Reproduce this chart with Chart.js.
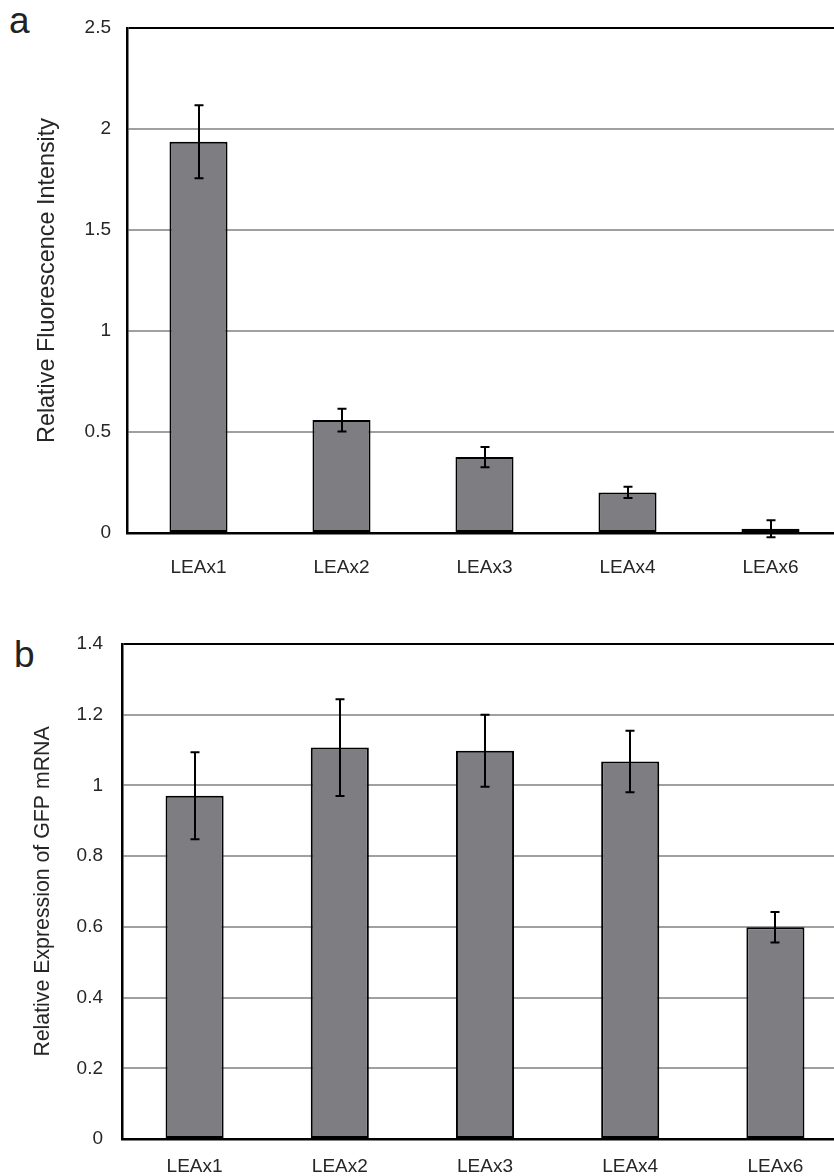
<!DOCTYPE html>
<html>
<head>
<meta charset="utf-8">
<script src="https://cdn.jsdelivr.net/npm/chart.js@4.4.1/dist/chart.umd.min.js"></script>
<style>
  html, body { margin: 0; padding: 0; background: #fff; overflow: hidden; width: 834px; height: 1176px; }
  canvas { position: absolute; left: 0; }
  .lbl { position: absolute; font-family: "Liberation Sans", Arial, sans-serif; font-size: 37px; color: #222; line-height: 1; }
</style>
</head>
<body>
<div class="lbl" style="left:9px; top:2px;">a</div>
<div class="lbl" style="left:14px; top:636px;">b</div>
<canvas id="ca" width="842" height="600" style="top:0px;"></canvas>
<canvas id="cb" width="848" height="590" style="top:600px;"></canvas>
<script>
// ---- Data ----
const categories = ["LEAx1", "LEAx2", "LEAx3", "LEAx4", "LEAx6"];

const fluorescenceValues = [1.937, 0.559, 0.376, 0.201, 0.021];
const fluorescenceErrors = [0.181, 0.056, 0.050, 0.028, 0.042];
const fluorescenceTicks = ["0", "0.5", "1", "1.5", "2", "2.5"];

const mrnaValues = [0.971, 1.107, 1.098, 1.068, 0.599];
const mrnaErrors = [0.123, 0.137, 0.102, 0.087, 0.043];
const mrnaTicks = ["0", "0.2", "0.4", "0.6", "0.8", "1", "1.2", "1.4"];

// ---- Styling ----
const FONT = "'Liberation Sans', Arial, sans-serif";
const TEXT = "#262626";
const BAR = "#7e7d82";
const GRID = "#a0a0a0";

const errorBarPlugin = {
  id: "errorBars",
  afterDatasetsDraw(chart, args, opts) {
    const { ctx } = chart;
    const y = chart.scales.y;
    const meta = chart.getDatasetMeta(0);
    const errs = opts.errors || [];
    const vals = chart.data.datasets[0].data;
    ctx.save();
    ctx.strokeStyle = "#000";
    ctx.lineWidth = 2;
    meta.data.forEach((bar, i) => {
      const x = Math.round(bar.x);
      const top = y.getPixelForValue(vals[i] + errs[i]);
      const bot = y.getPixelForValue(vals[i] - errs[i]);
      ctx.beginPath();
      ctx.moveTo(x, top); ctx.lineTo(x, bot);
      ctx.moveTo(x - 4.5, top); ctx.lineTo(x + 4.5, top);
      ctx.moveTo(x - 4.5, bot); ctx.lineTo(x + 4.5, bot);
      ctx.stroke();
    });
    ctx.restore();
  }
};

function makeChart(id, values, errors, tickLabels, max, step, title, cfg) {
  return new Chart(document.getElementById(id), {
    type: "bar",
    data: {
      labels: categories,
      datasets: [{
        data: values,
        backgroundColor: BAR,
        borderColor: "#000",
        borderWidth: 2,
        borderSkipped: false,
        barPercentage: cfg.barPct,
        categoryPercentage: 1
      }]
    },
    plugins: [errorBarPlugin],
    options: {
      responsive: false,
      animation: false,
      devicePixelRatio: 1,
      layout: { padding: { top: cfg.padTop, left: 0, right: 0, bottom: 0 } },
      plugins: {
        legend: { display: false },
        tooltip: { enabled: false },
        errorBars: { errors: errors }
      },
      scales: {
        x: {
          grid: { display: false, drawTicks: false },
          border: { display: true, color: "#000", width: 2.5 },
          ticks: { color: TEXT, font: { family: FONT, size: 19 }, padding: cfg.xPad, maxRotation: 0 },
          afterFit(s) { s.height = cfg.xHeight; }
        },
        y: {
          min: 0, max: max,
          ticks: {
            stepSize: step,
            color: TEXT,
            font: { family: FONT, size: 19 },
            padding: cfg.yPad,
            callback: (v, i) => tickLabels[i]
          },
          grid: {
            drawTicks: false,
            lineWidth: 2,
            color: (c) => (c.index === tickLabels.length - 1 || c.index === 0 ? "#000" : GRID)
          },
          border: { display: true, color: "#000", width: 2.5 },
          title: {
            display: true, text: title, color: TEXT,
            font: { family: FONT, size: cfg.titleSize },
            padding: { top: cfg.titlePad, bottom: 0 }
          },
          afterFit(s) { s.width = cfg.yWidth; }
        }
      }
    }
  });
}

makeChart("ca", fluorescenceValues, fluorescenceErrors, fluorescenceTicks, 2.5, 0.5,
  "Relative Fluorescence Intensity",
  { padTop: 28, xHeight: 67, xPad: 23, yPad: 16, yWidth: 127, titlePad: 34, titleSize: 23.4, barPct: 0.406 });

makeChart("cb", mrnaValues, mrnaErrors, mrnaTicks, 1.4, 0.2,
  "Relative Expression of GFP mRNA",
  { padTop: 44, xHeight: 51, xPad: 16, yPad: 19, yWidth: 122, titlePad: 30, titleSize: 21.3, barPct: 0.40 });
</script>
</body>
</html>
